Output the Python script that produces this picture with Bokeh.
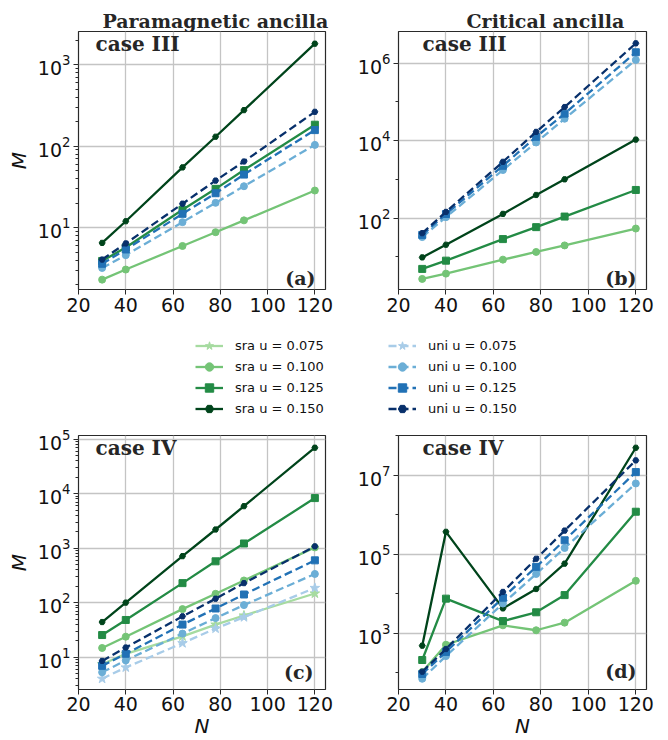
from bokeh.plotting import figure
from bokeh.layouts import column, row
from bokeh.models import Range1d, FixedTicker, Label, Legend, LegendItem
from bokeh.embed import file_html
from bokeh.resources import INLINE

# ---------------- data ----------------
N = [30, 40, 64, 78, 90, 120]
x_ticks = [20, 40, 60, 80, 100, 120]
u_keys = ["0.075", "0.100", "0.125", "0.150"]

# (a) case III, paramagnetic ancilla
a_sra_100 = [2.3, 3.06, 5.96, 8.8, 12.3, 28.6]
a_sra_125 = [3.9, 5.7, 16.6, 30, 51, 184]
a_sra_150 = [6.5, 12, 55, 131, 278, 1820]
a_uni_100 = [3.2, 4.6, 11.7, 20.2, 32.3, 104]
a_uni_125 = [3.6, 5.4, 14.8, 26.5, 44.9, 158]
a_uni_150 = [4.06, 6.4, 19.7, 37.9, 65, 265]

# (b) case III, critical ancilla
b_sra_100 = [2.7, 3.7, 8.5, 13.4, 19.8, 54]
b_sra_125 = [4.9, 8.0, 28.8, 58.7, 110, 535]
b_sra_150 = [9.7, 20.6, 129, 397, 1007, 10700]
b_uni_100 = [32.5, 106, 1750, 9000, 37000, 1.22e6]
b_uni_125 = [37, 128, 2250, 12600, 50000, 1.92e6]
b_uni_150 = [41, 145, 2850, 16900, 74000, 3.27e6]

# (c) case IV, paramagnetic ancilla
c_sra_075 = [7.4, 11.5, 24, 39.5, 58, 147]
c_sra_100 = [14.7, 23.7, 76, 145, 255, 1032]
c_sra_125 = [25.4, 48, 228, 573, 1218, 8300]
c_sra_150 = [44, 100, 713, 2200, 5900, 69800]
c_uni_075 = [4.0, 6.45, 18, 33.4, 54, 186]
c_uni_100 = [5.25, 8.7, 27, 52, 90, 336]
c_uni_125 = [6.9, 11.5, 39.5, 78, 141, 597]
c_uni_150 = [8.5, 15, 56, 118, 228, 1077]

# (d) case IV, critical ancilla
d_sra_100 = [105, 516, 1600, 1200, 1870, 21400]
d_sra_125 = [212, 7570, 2050, 3420, 9310, 1.2e6]
d_sra_150 = [488, 3.72e5, 4290, 13300, 58300, 4.99e7]
d_uni_100 = [71, 266, 5700, 31900, 1.45e5, 6.24e6]
d_uni_125 = [94, 340, 8000, 48300, 2.27e5, 1.21e7]
d_uni_150 = [107, 403, 11200, 77400, 4.0e5, 2.39e7]

a_ticks = [1e1, 1e2, 1e3]
b_ticks = [1e2, 1e4, 1e6]
c_ticks = [1e1, 1e2, 1e3, 1e4, 1e5]
d_ticks = [1e3, 1e5, 1e7]

# ---------------- styles ----------------
GREENS = {"0.075": "#a6dba0", "0.100": "#74c476", "0.125": "#238b45", "0.150": "#00441b"}
BLUES = {"0.075": "#a8cce8", "0.100": "#6baed6", "0.125": "#2171b5", "0.150": "#08306b"}
MARKERS = {"0.075": ("star", 10), "0.100": ("circle", 7), "0.125": ("square", 7), "0.150": ("hex", 6)}
LW = 2.3
DASH = "8 4"
SERIF = "DejaVu Serif"
SANS = "DejaVu Sans"


def minor_log(lo_exp, hi_exp):
    out = []
    for e in range(lo_exp, hi_exp + 1):
        for m in range(2, 10):
            out.append(m * 10.0 ** e)
    return out


def panel(sra, uni, ylo, yhi, yticks, yminor, w, h, bl, br, bt, bb,
          ylabel, xlabel, title, title_off, case, case_x, case_dy, tag, tag_dx, tag_dy):
    p = figure(width=w, height=h, x_range=Range1d(20, 124.5), y_range=Range1d(ylo, yhi),
               y_axis_type="log", toolbar_location=None, output_backend="svg",
               min_border_left=bl, min_border_right=br, min_border_top=bt, min_border_bottom=bb)
    fw = w - bl - br
    fh = h - bt - bb
    p.background_fill_color = "white"
    p.border_fill_color = "white"
    p.outline_line_color = "#2a2a2a"
    p.outline_line_width = 1.2
    p.outline_line_alpha = 1.0

    p.xaxis.ticker = FixedTicker(ticks=x_ticks, minor_ticks=[])
    p.yaxis.ticker = FixedTicker(ticks=yticks, minor_ticks=yminor)
    p.xgrid.ticker = FixedTicker(ticks=x_ticks, minor_ticks=[])
    p.ygrid.ticker = FixedTicker(ticks=yticks, minor_ticks=[])
    p.grid.grid_line_color = "#c4c4c4"
    p.grid.grid_line_width = 1.3

    p.axis.axis_line_color = None
    p.axis.major_tick_line_color = "#2a2a2a"
    p.axis.minor_tick_line_color = "#2a2a2a"
    p.axis.major_tick_out = 5
    p.axis.major_tick_in = 0
    p.axis.minor_tick_out = 3
    p.axis.minor_tick_in = 0
    p.axis.major_label_text_font = SANS
    p.axis.major_label_text_font_size = "19px"
    p.axis.major_label_text_color = "#111111"
    p.xaxis.major_label_standoff = 3
    p.yaxis.major_label_standoff = 3
    if ylabel:
        p.yaxis.axis_label = "M"
        p.yaxis.axis_label_text_font = SANS
        p.yaxis.axis_label_text_font_style = "italic"
        p.yaxis.axis_label_text_font_size = "20px"
        p.yaxis.axis_label_text_color = "#111111"
        p.yaxis.axis_label_standoff = 4
    if xlabel:
        p.xaxis.axis_label = "N"
        p.xaxis.axis_label_text_font = SANS
        p.xaxis.axis_label_text_font_style = "italic"
        p.xaxis.axis_label_text_font_size = "20px"
        p.xaxis.axis_label_text_color = "#111111"
        p.xaxis.axis_label_standoff = 0
        p.xaxis.major_label_standoff = 2
        p.xaxis.major_label_text_line_height = 1.0
        p.xaxis.axis_label_text_line_height = 1.0
    if title:
        p.title.text = title
        p.title.align = "left"
        p.title.offset = title_off
        p.title.standoff = 0
        p.title.text_font = SERIF
        p.title.text_font_style = "bold"
        p.title.text_font_size = "19px"
        p.title.text_color = "#262626"

    for k in u_keys:
        if k in sra:
            m, s = MARKERS[k]
            p.line(N, sra[k], line_color=GREENS[k], line_width=LW)
            p.scatter(N, sra[k], marker=m, size=s, fill_color=GREENS[k], line_color=GREENS[k])
    for k in u_keys:
        if k in uni:
            m, s = MARKERS[k]
            p.line(N, uni[k], line_color=BLUES[k], line_width=LW, line_dash=DASH)
            p.scatter(N, uni[k], marker=m, size=s, fill_color=BLUES[k], line_color=BLUES[k])

    p.add_layout(Label(x=case_x, y=fh - case_dy, x_units="screen", y_units="screen", text=case,
                       text_font=SERIF, text_font_style="bold", text_font_size="20px",
                       text_color="#262626", text_baseline="middle", text_align="left"))
    p.add_layout(Label(x=fw - tag_dx, y=tag_dy, x_units="screen", y_units="screen", text=tag,
                       text_font=SERIF, text_font_style="bold", text_font_size="19px",
                       text_color="#262626", text_baseline="middle", text_align="right"))
    return p


pa = panel({"0.100": a_sra_100, "0.125": a_sra_125, "0.150": a_sra_150},
           {"0.100": a_uni_100, "0.125": a_uni_125, "0.150": a_uni_150},
           1.74, 2570, a_ticks, minor_log(0, 3),
           334, 320, 78, 9, 31, 31, True, False, "Paramagnetic ancilla", 24,
           "case III", 17, 12.5, "(a)", 10, 12)
pb = panel({"0.100": b_sra_100, "0.125": b_sra_125, "0.150": b_sra_150},
           {"0.100": b_uni_100, "0.125": b_uni_125, "0.150": b_uni_150},
           1.44, 6.6e6, b_ticks, [1e1, 1e3, 1e5],
           326, 320, 64, 14, 31, 31, False, False, "Critical ancilla", 68,
           "case III", 24, 12.5, "(b)", 10, 12)
pc = panel({"0.075": c_sra_075, "0.100": c_sra_100, "0.125": c_sra_125, "0.150": c_sra_150},
           {"0.075": c_uni_075, "0.100": c_uni_100, "0.125": c_uni_125, "0.150": c_uni_150},
           2.54, 1.17e5, c_ticks, minor_log(0, 5),
           334, 320, 78, 9, 15, 44, True, True, None, 0,
           "case IV", 17, 19, "(c)", 12, 18)
pd_ = panel({"0.100": d_sra_100, "0.125": d_sra_125, "0.150": d_sra_150},
            {"0.100": d_uni_100, "0.125": d_uni_125, "0.150": d_uni_150},
            38, 1.02e8, d_ticks, [1e2, 1e4, 1e6, 1e8],
            326, 320, 64, 14, 15, 44, False, True, None, 0,
            "case IV", 24, 19, "(d)", 10, 19)

# ---------------- legend strip ----------------
lf = figure(width=660, height=100, x_range=Range1d(0, 1), y_range=Range1d(0, 1),
            toolbar_location=None, output_backend="svg", x_axis_location=None,
            y_axis_location=None, min_border=0, min_border_left=0, min_border_right=0,
            min_border_top=0, min_border_bottom=0, outline_line_color=None)
lf.grid.visible = False
sra_items, uni_items = [], []
for k in u_keys:
    m, s = MARKERS[k]
    r1 = lf.line([5, 6], [5, 6], line_color=GREENS[k], line_width=LW)
    r2 = lf.scatter([5], [5], marker=m, size=s, fill_color=GREENS[k], line_color=GREENS[k])
    sra_items.append(LegendItem(label="sra u = " + k, renderers=[r1, r2]))
    r3 = lf.line([5, 6], [5, 6], line_color=BLUES[k], line_width=LW, line_dash=DASH)
    r4 = lf.scatter([5], [5], marker=m, size=s, fill_color=BLUES[k], line_color=BLUES[k])
    uni_items.append(LegendItem(label="uni u = " + k, renderers=[r3, r4]))

for items, lx in ((sra_items, 195), (uni_items, 388)):
    lg = Legend(items=items, location=(lx, 1.5), orientation="vertical",
                border_line_color=None, background_fill_alpha=0, padding=0, margin=0,
                spacing=0, glyph_height=21, glyph_width=28, label_height=21,
                label_standoff=12, label_text_font=SANS, label_text_font_size="13px",
                label_text_color="#111111")
    lf.add_layout(lg)

layout = column(row(pa, pb), lf, row(pc, pd_))
open("out.html", "w").write(file_html(layout, INLINE))
